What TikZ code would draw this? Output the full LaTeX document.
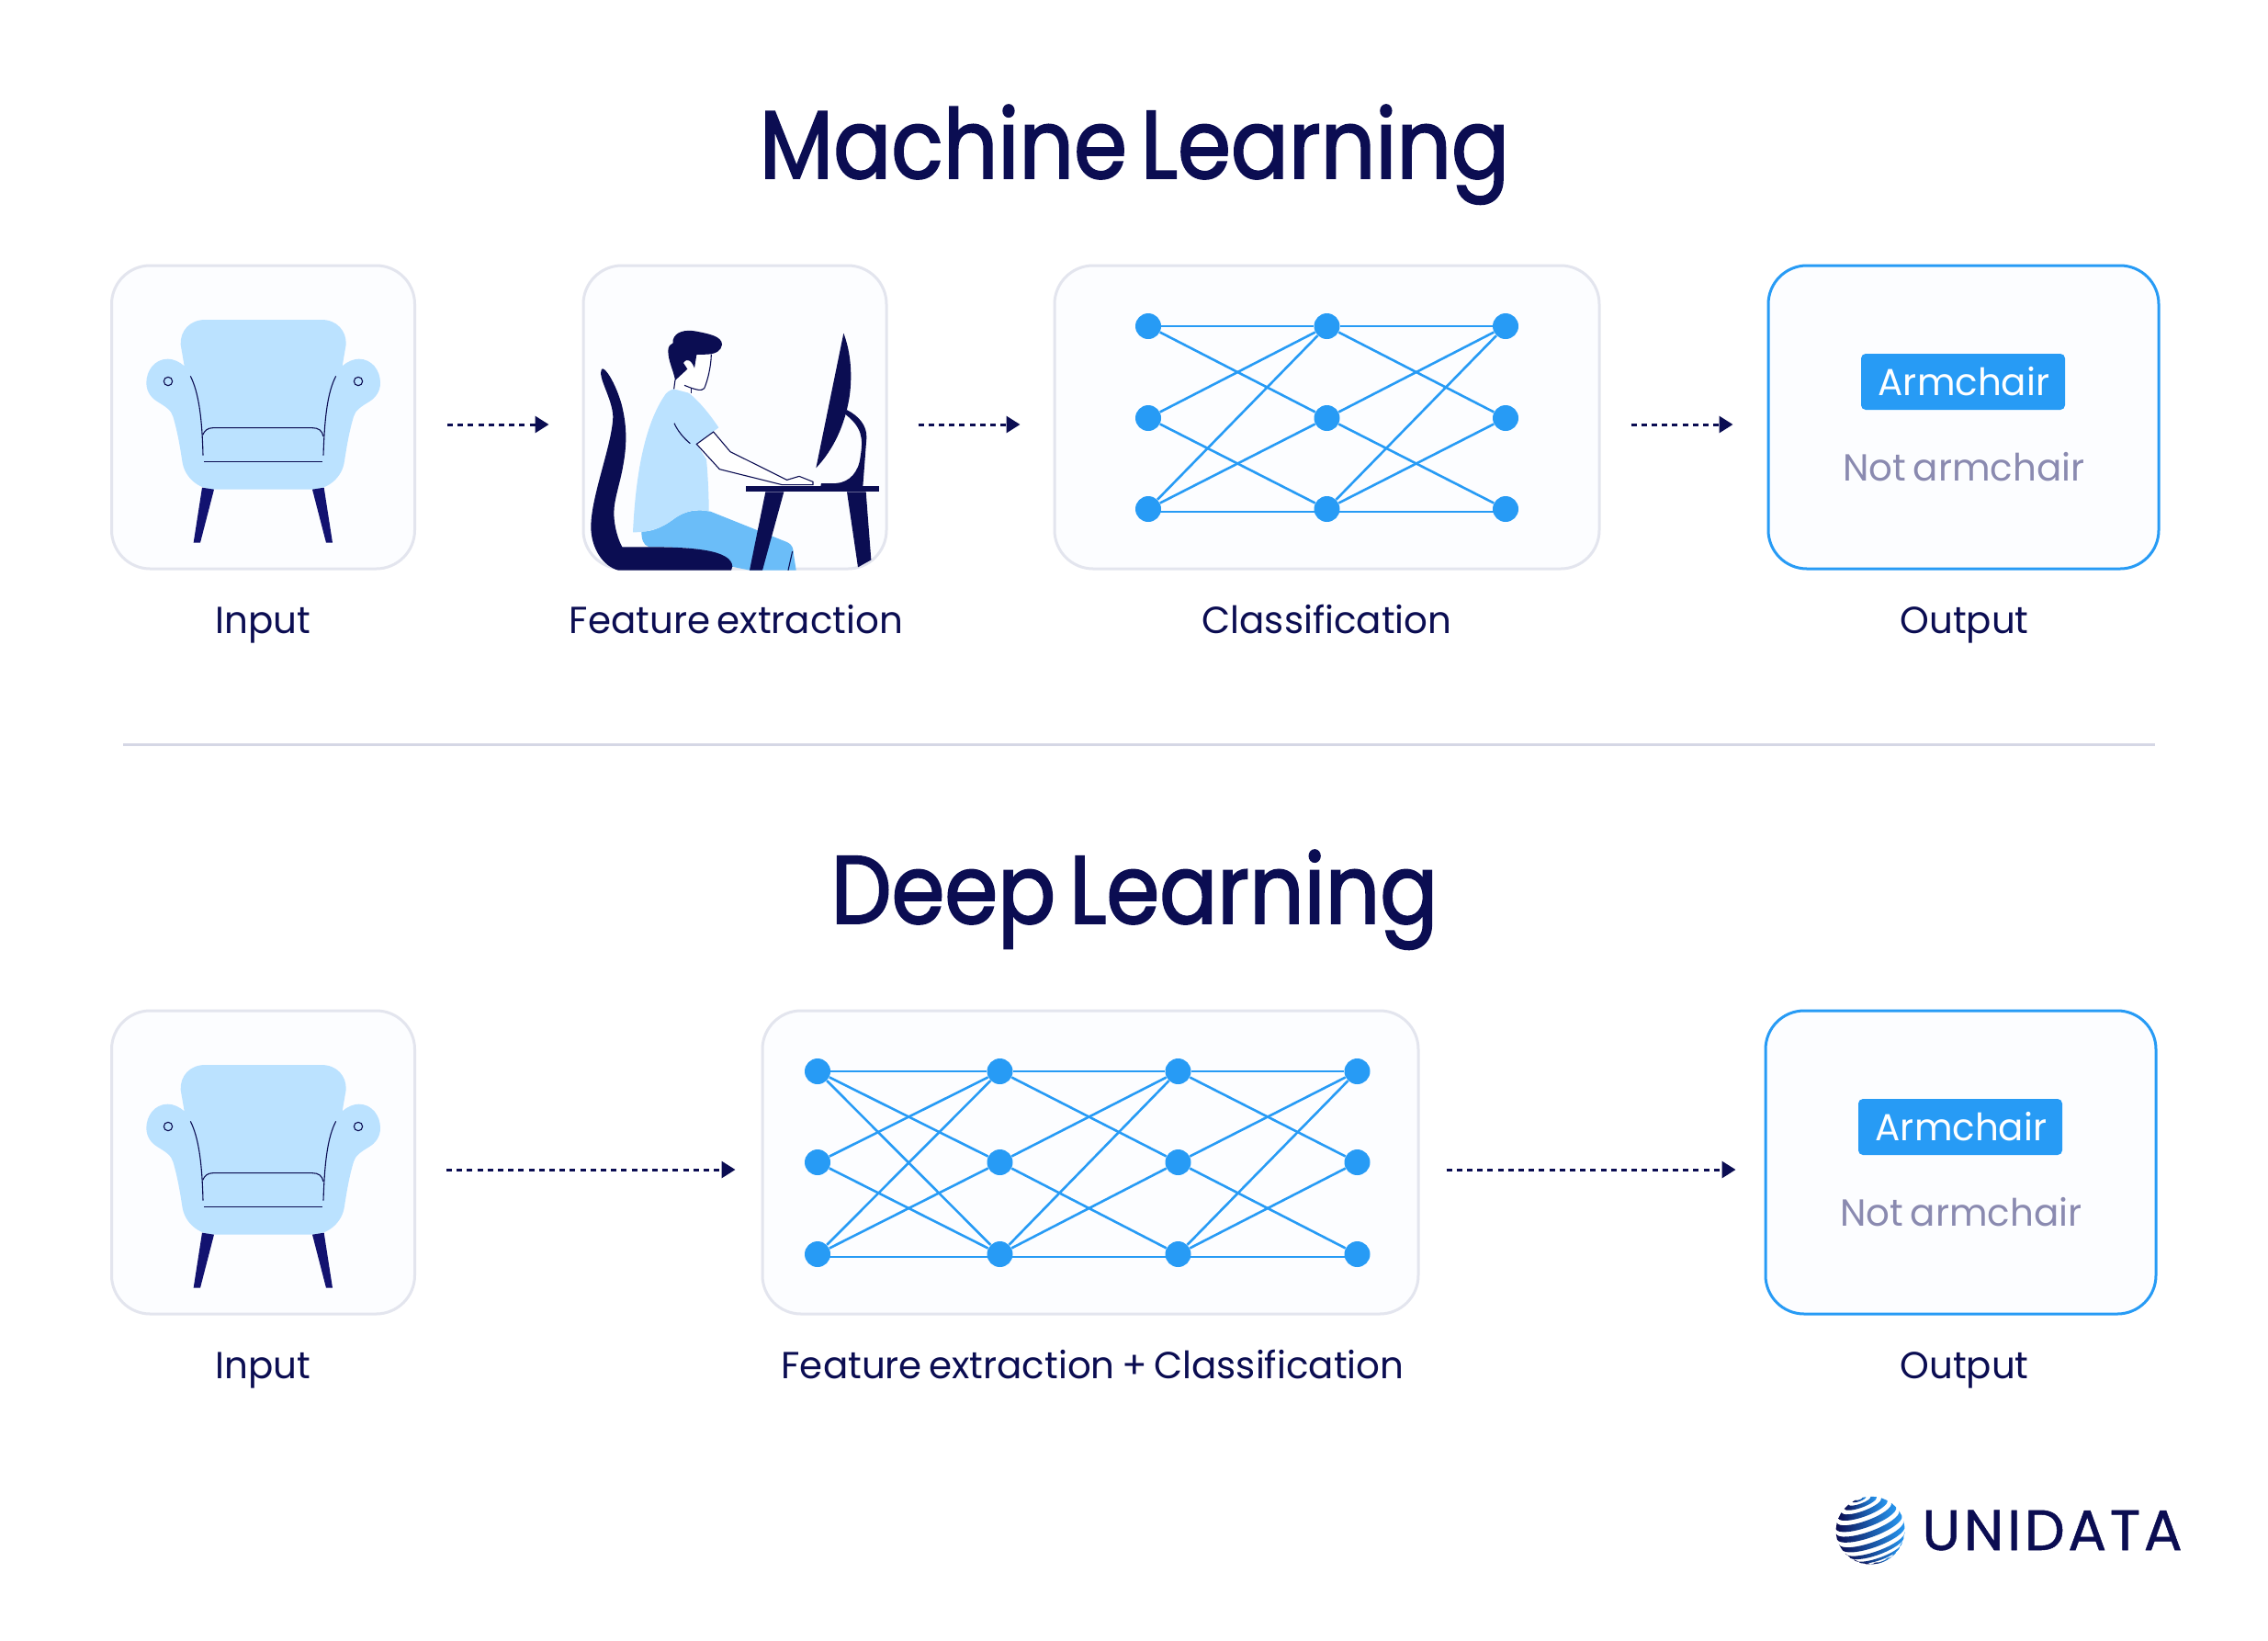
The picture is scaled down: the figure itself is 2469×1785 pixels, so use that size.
\documentclass[tikz,border=0pt]{standalone}
\usepackage{fontspec}
\usetikzlibrary{arrows.meta,backgrounds,calc}
\newfontfamily\mTitle[FakeStretch=.888,FakeBold=1.8,WordSpace=.6]{Poppins}
\newfontfamily\mLabel[FakeStretch=.985,WordSpace=.7]{Poppins}
\newfontfamily\mLogo[LetterSpace=5.8,FakeBold=.8]{Poppins}
\definecolor{navy}{HTML}{0B0D52}
\definecolor{legblue}{HTML}{121270}
\definecolor{netblue}{HTML}{279BF5}
\definecolor{panelfill}{HTML}{FCFDFF}
\definecolor{panelline}{HTML}{E3E5EE}
\definecolor{rulegrey}{HTML}{D5D7E5}
\definecolor{shirt}{HTML}{BBE2FF}
\definecolor{pants}{HTML}{6BBDF8}
\definecolor{muted}{HTML}{8A8AB0}
\newcommand{\mChair}{%
\fill[shirt] (250,84) -- (630,84) .. controls (680,84) and (712,120) .. (710,165) -- (698,235)
 .. controls (715,220) and (735,212) .. (752,212) .. controls (795,212) and (822,250) .. (822,290)
 .. controls (822,320) and (805,340) .. (785,352) .. controls (760,367) and (740,380) .. (735,400)
 .. controls (720,450) and (712,500) .. (705,545) .. controls (698,600) and (650,638) .. (600,638)
 -- (280,638) .. controls (230,638) and (182,600) .. (175,545) .. controls (168,500) and (160,450) .. (145,400)
 .. controls (140,380) and (120,367) .. (95,352) .. controls (75,340) and (58,320) .. (58,290)
 .. controls (58,250) and (85,212) .. (128,212) .. controls (145,212) and (165,220) .. (182,235)
 -- (170,165) .. controls (168,120) and (200,84) .. (250,84) -- cycle;
\fill[legblue] (240,632) -- (279,638) -- (234,812) -- (212,812) -- cycle;
\fill[legblue] (638,632) -- (600,638) -- (645,812) -- (666,812) -- cycle;
\draw[thinline] (202,268) .. controls (228,320) and (240,400) .. (243,527);
\draw[thinline] (677,268) .. controls (650,320) and (640,400) .. (636,527);
\draw[thinline] (242,460) .. controls (248,445) and (260,437) .. (275,437) -- (600,437) .. controls (620,437) and (632,445) .. (636,465);
\draw[thinline] (246,548) -- (633,548);
\draw[thinline] (129,285) circle(14);
\draw[thinline] (750,285) circle(14);
}
\begin{document}
\begin{tikzpicture}
[x=.5pt,y=-.5pt,
N/.style={circle,fill=netblue,inner sep=0pt,minimum size=14pt},
panel/.style={draw=panelline,fill=panelfill,line width=1.5pt,rounded corners=21pt,minimum height=165pt,inner sep=0pt},
outbox/.style={draw=netblue,fill=panelfill,line width=1.5pt,rounded corners=21pt,minimum height=165pt,minimum width=212.5pt,inner sep=0pt},
badge/.style={fill=netblue,rounded corners=2.5pt,minimum width=111pt,minimum height=30.5pt,inner sep=0pt},
title/.style={anchor=base,text=navy,font=\mTitle\fontsize{52.5}{60}\selectfont},
lab/.style={anchor=base,text=navy,font=\mLabel\fontsize{20.5}{24}\selectfont},
thinline/.style={draw=navy,line width=.55pt},
dedge/.style={draw=navy,line width=1.5pt,dash pattern=on 3pt off 2.6pt,-{Triangle[length=7.5pt,width=9pt]}},
myedge/.style={draw=netblue,line width=1.3pt}]
\useasboundingbox (0,0) rectangle (2469,1785);
%%
%%%%%%%%%%%%%%%%%%
% Machine Learning
%%%%%%%%%%%%%%%%%%
\node[title] (mltitle) at (1235,194) {Machine Learning};
\begin{pgfonlayer}{background}
\fill[white] (0,0) rectangle (2469,1785);
\node[panel,minimum width=165pt] (in1) at (286.5,454) {};
\node[panel,minimum width=165pt] (fe1) at (800,454) {};
\node[panel,minimum width=296.5pt] (cl1) at (1444.5,454) {};
\end{pgfonlayer}
\node[outbox] (out1) at (2137.5,454) {};
%% chair
\begin{scope}[xshift=70pt,yshift=-160pt,x=.16667pt,y=-.16667pt]
\mChair
\end{scope}
%% person
\begin{scope}[xshift=310pt,yshift=-170pt,x=.16667pt,y=-.16667pt]
\fill[pants] (235,715) .. controls (260,718) and (300,705) .. (340,675) .. controls (380,645) and (420,642) .. (460,650)
 -- (710,750) .. controls (730,760) and (730,770) .. (732,790) -- (740,842) -- (590,842) -- (530,830)
 .. controls (520,775) and (400,766) .. (260,766) .. controls (240,760) and (235,740) .. (235,715) -- cycle;
\fill[shirt] (207,718) .. controls (215,550) and (240,370) .. (315,265) .. controls (335,245) and (360,245) .. (385,260)
 .. controls (420,285) and (460,335) .. (487,376) -- (415,430) -- (447,480) .. controls (452,530) and (455,600) .. (455,650)
 .. controls (420,640) and (380,645) .. (340,675) .. controls (300,705) and (260,718) .. (207,718) -- cycle;
\draw[thinline,fill=white] (470,390) -- (415,430) -- (490,512) -- (695,563) -- (795,563) -- (795,553) -- (750,535) -- (710,547) -- (525,455) -- cycle;
\draw[thinline] (342,362) .. controls (352,385) and (372,410) .. (394,428);
\draw[thinline] (728,780) -- (714,842);
%% head
\fill[white] (345,220) -- (341,250) -- (398,265) -- (398,247) -- (440,248) -- (463,137) -- (415,138) -- cycle;
\fill[navy] (338,90) .. controls (345,62) and (380,55) .. (415,62) .. controls (455,70) and (498,78) .. (498,105)
 .. controls (495,125) and (480,135) .. (450,137) -- (415,138) -- (408,182) .. controls (400,160) and (385,145) .. (372,165)
 -- (385,185) -- (345,222) .. controls (340,190) and (322,160) .. (322,125) .. controls (322,110) and (330,103) .. (338,100) -- cycle;
\draw[thinline] (463,137) .. controls (462,180) and (450,225) .. (440,248) .. controls (430,258) and (415,252) .. (398,247) -- (375,238);
\draw[thinline] (345,220) -- (341,250);
\draw[thinline] (398,247) -- (398,265);
%% seat
\fill[navy] (105,185) .. controls (115,175) and (150,230) .. (170,300) .. controls (185,360) and (190,420) .. (175,500)
 .. controls (165,560) and (145,610) .. (145,655) .. controls (145,700) and (160,745) .. (172,766) -- (260,766)
 .. controls (400,766) and (530,775) .. (532,830) -- (528,842) -- (160,842) .. controls (110,830) and (70,770) .. (70,700)
 .. controls (70,600) and (140,430) .. (142,340) .. controls (140,280) and (90,210) .. (105,185) -- cycle;
%% desk
\fill[navy] (576,568) rectangle (1010,586);
\fill[navy] (640,586) -- (700,586) -- (630,842) -- (588,842) -- cycle;
\fill[navy] (906,586) -- (968,586) -- (985,808) -- (942,832) -- cycle;
\fill[navy] (895,68) .. controls (915,120) and (925,190) .. (915,270) .. controls (900,370) and (860,450) .. (805,508) -- cycle;
\fill[navy] (905,318) .. controls (945,338) and (972,370) .. (970,410) -- (958,568) -- (820,568) -- (822,558) -- (870,558)
 .. controls (915,555) and (945,520) .. (950,470) .. controls (960,410) and (955,375) .. (900,332) -- cycle;
\end{scope}
%% network
\node[N] (a1) at (1250,355) {};
\node[N] (a2) at (1250,455) {};
\node[N] (a3) at (1250,554) {};
\node[N] (b1) at (1444.5,355) {};
\node[N] (b2) at (1444.5,455) {};
\node[N] (b3) at (1444.5,554) {};
\node[N] (c1) at (1639,355) {};
\node[N] (c2) at (1639,455) {};
\node[N] (c3) at (1639,554) {};
%%
\begin{pgfonlayer}{background}
\draw[myedge] (a1) -- (b1);
\draw[myedge] (a1) -- (b2);
\draw[myedge] (a2) -- (b1);
\draw[myedge] (a2) -- (b3);
\draw[myedge] (a3) -- (b1);
\draw[myedge] (a3) -- (b2);
\draw[myedge] ([yshift=-1.5pt]a3.center) -- ([yshift=-1.5pt]b3.center);
\draw[myedge] (b1) -- (c1);
\draw[myedge] (b1) -- (c2);
\draw[myedge] (b2) -- (c1);
\draw[myedge] (b2) -- (c3);
\draw[myedge] (b3) -- (c1);
\draw[myedge] (b3) -- (c2);
\draw[myedge] ([yshift=-1.5pt]b3.center) -- ([yshift=-1.5pt]c3.center);
\end{pgfonlayer}
%% output
\node[badge] (arm1) at (2137,415.5) {};
\node[lab,text=white] (armlab1) at (2138,430) {Armchair};
\node[lab,text=muted] (not1) at (2138,523) {Not armchair};
%% labels
\node[lab] (inlab1) at (286.5,689) {Input};
\node[lab] (felab1) at (801.5,689) {Feature extraction};
\node[lab] (cllab1) at (1444.5,689) {Classification};
\node[lab] (outlab1) at (2138.5,689) {Output};
%% arrows
\draw[dedge,shorten <=17pt,shorten >=18pt] ([yshift=-4pt]in1.east) -- ([yshift=-4pt]fe1.west);
\draw[dedge,shorten <=16.5pt,shorten >=18pt] ([yshift=-4pt]fe1.east) -- ([yshift=-4pt]cl1.west);
\draw[dedge,shorten <=16.5pt,shorten >=18.5pt] ([yshift=-4pt]cl1.east) -- ([yshift=-4pt]out1.west);
%%
\coordinate (ruleL) at (134,810);
\coordinate (ruleR) at (2346,810);
\draw[rulegrey,line width=1.5pt] (ruleL) -- (ruleR);
%%
%%%%%%%%%%%%%%%%%%
% Deep Learning
%%%%%%%%%%%%%%%%%%
\node[title] (dltitle) at (1235,1005) {Deep Learning};
\begin{pgfonlayer}{background}
\node[panel,minimum width=165pt] (in2) at (286.5,1265) {};
\node[panel,minimum width=357pt] (net2) at (1187,1265) {};
\end{pgfonlayer}
\node[outbox] (out2) at (2134.5,1265) {};
%% chair
\begin{scope}[xshift=70pt,yshift=-565.5pt,x=.16667pt,y=-.16667pt]
\mChair
\end{scope}
%% network
\node[N] (d1) at (890,1166) {};
\node[N] (d2) at (890,1265) {};
\node[N] (d3) at (890,1365) {};
\node[N] (e1) at (1088.5,1166) {};
\node[N] (e2) at (1088.5,1265) {};
\node[N] (e3) at (1088.5,1365) {};
\node[N] (f1) at (1282.5,1166) {};
\node[N] (f2) at (1282.5,1265) {};
\node[N] (f3) at (1282.5,1365) {};
\node[N] (g1) at (1477.5,1166) {};
\node[N] (g2) at (1477.5,1265) {};
\node[N] (g3) at (1477.5,1365) {};
%%
\begin{pgfonlayer}{background}
\draw[myedge] (d1) -- (e1);
\draw[myedge] (d1) -- (e2);
\draw[myedge] (d1) -- (e3);
\draw[myedge] (d2) -- (e1);
\draw[myedge] (d2) -- (e3);
\draw[myedge] (d3) -- (e1);
\draw[myedge] (d3) -- (e2);
\draw[myedge] ([yshift=-1.5pt]d3.center) -- ([yshift=-1.5pt]e3.center);
%%
\draw[myedge] (e1) -- (f1);
\draw[myedge] (e1) -- (f2);
\draw[myedge] (e2) -- (f1);
\draw[myedge] (e2) -- (f3);
\draw[myedge] (e3) -- (f1);
\draw[myedge] (e3) -- (f2);
\draw[myedge] ([yshift=-1.5pt]e3.center) -- ([yshift=-1.5pt]f3.center);
%%
\draw[myedge] (f1) -- (g1);
\draw[myedge] (f1) -- (g2);
\draw[myedge] (f2) -- (g1);
\draw[myedge] (f2) -- (g3);
\draw[myedge] (f3) -- (g1);
\draw[myedge] (f3) -- (g2);
\draw[myedge] ([yshift=-1.5pt]f3.center) -- ([yshift=-1.5pt]g3.center);
\end{pgfonlayer}
%% output
\node[badge] (arm2) at (2134,1226.5) {};
\node[lab,text=white] (armlab2) at (2135,1241) {Armchair};
\node[lab,text=muted] (not2) at (2135,1334) {Not armchair};
%% labels
\node[lab] (inlab2) at (286.5,1500) {Input};
\node[lab] (netlab2) at (1189.5,1500) {Feature extraction + Classification};
\node[lab] (outlab2) at (2138.5,1500) {Output};
%% arrows
\draw[dedge,shorten <=16.5pt,shorten >=14pt] ([yshift=-4pt]in2.east) -- ([yshift=-4pt]net2.west);
\draw[dedge,shorten <=14.5pt,shorten >=15.5pt] ([yshift=-4pt]net2.east) -- ([yshift=-4pt]out2.west);
%%
%%%%%%%%%%%%%%%%%%
% logo
%%%%%%%%%%%%%%%%%%
\begin{scope}[shift={(2036,1665)},rotate=20,x=1pt,y=1pt]
\def \rad {18.8}
\foreach \a/\b in {84/78,70/60,52/41,33/22,14/4,-5/-15,-24/-33,-42/-51,-60/-68,-76/-82}{
\pgfmathsetmacro{\ra}{\rad*cos(\a)}
\pgfmathsetmacro{\rb}{\rad*cos(\b)}
\pgfmathsetmacro{\ha}{\rad*sin(\a)*.96}
\pgfmathsetmacro{\hb}{\rad*sin(\b)*.96}
\shade[left color=navy,right color=netblue,shading angle=90]
 (-\ra,\ha) arc[start angle=180,end angle=360,x radius=\ra,y radius=.28*\ra]
 -- (\rb,\hb) arc[start angle=360,end angle=180,x radius=\rb,y radius=.28*\rb] -- cycle;
}
\end{scope}
\node[anchor=base west,inner sep=0pt,text=navy,font=\mLogo\fontsize{31}{36}\selectfont] (unidata) at (2092,1687) {UNIDATA};
\end{tikzpicture}
\end{document}
